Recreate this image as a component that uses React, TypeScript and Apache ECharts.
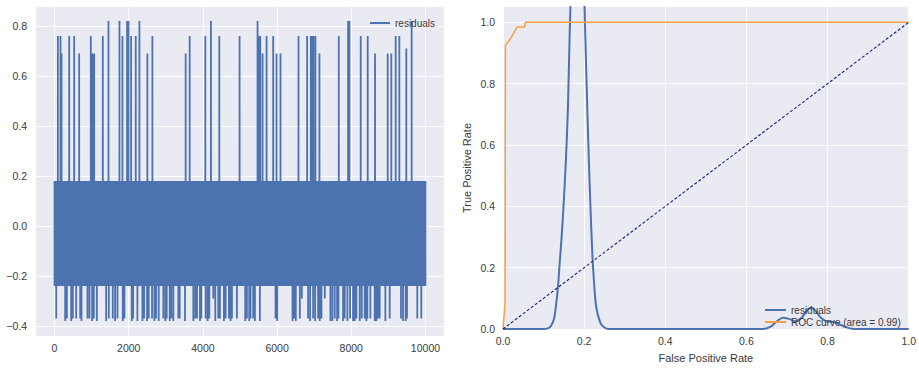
import React, { useEffect, useRef } from "react";
import * as echarts from "echarts";

// ---------- left panel: residuals ----------
const N_POINTS = 10000;
const BASE_LEVELS = [0.18, -0.24];
const UP_SPIKE_IDX = [90, 161, 188, 395, 529, 664, 978, 1023, 1068, 1301, 1454, 1750, 1830, 1956, 1992, 2064, 2189, 2288, 2503, 2638, 3535, 3643, 3795, 4065, 4217, 4442, 4989, 5473, 5500, 5545, 5608, 5716, 5895, 5985, 6092, 6577, 6810, 6909, 6945, 6981, 7034, 7142, 7286, 7663, 7896, 7914, 7950, 8255, 8443, 8515, 8641, 8919, 8982, 9080, 9197, 9296, 9341, 9484, 9628];
const UP_SPIKE_VAL = [0.76, 0.76, 0.69, 0.76, 0.76, 0.69, 0.76, 0.69, 0.69, 0.76, 0.82, 0.82, 0.76, 0.82, 0.82, 0.76, 0.76, 0.82, 0.69, 0.76, 0.69, 0.76, 0.76, 0.76, 0.82, 0.76, 0.76, 0.82, 0.76, 0.76, 0.69, 0.76, 0.76, 0.69, 0.69, 0.76, 0.76, 0.76, 0.76, 0.76, 0.76, 0.69, 0.76, 0.76, 0.69, 0.82, 0.82, 0.76, 0.76, 0.76, 0.69, 0.69, 0.69, 0.69, 0.76, 0.76, 0.69, 0.71, 0.82];
const DOWN_SPIKE_IDX = [45, 287, 332, 449, 493, 583, 691, 727, 888, 942, 1014, 1059, 1140, 1391, 1463, 1570, 1633, 1696, 1839, 1884, 2082, 2118, 2234, 2369, 2414, 2494, 2539, 2629, 2692, 2737, 2808, 2934, 2988, 3024, 3105, 3149, 3203, 3338, 3374, 3517, 3742, 3795, 3840, 3921, 3957, 4074, 4127, 4172, 4280, 4334, 4415, 4459, 4567, 4612, 4702, 4747, 4783, 4917, 5141, 5186, 5249, 5285, 5357, 5402, 5536, 5958, 6003, 6416, 6460, 6505, 6613, 6667, 6837, 6891, 6972, 7026, 7106, 7151, 7196, 7286, 7438, 7492, 7555, 7618, 7654, 7779, 7824, 7896, 7968, 8049, 8093, 8138, 8228, 8282, 8362, 8407, 8434, 8515, 8632, 8677, 8722, 8766, 8919, 9036, 9341, 9395, 9466, 9502, 9780, 9888];
const DOWN_SPIKE_VAL = [-0.37, -0.38, -0.37, -0.38, -0.37, -0.37, -0.37, -0.38, -0.37, -0.37, -0.38, -0.37, -0.38, -0.38, -0.37, -0.37, -0.38, -0.37, -0.38, -0.37, -0.38, -0.37, -0.38, -0.38, -0.37, -0.38, -0.37, -0.37, -0.38, -0.37, -0.38, -0.37, -0.38, -0.37, -0.38, -0.37, -0.38, -0.37, -0.37, -0.38, -0.38, -0.37, -0.37, -0.38, -0.37, -0.37, -0.38, -0.37, -0.29, -0.38, -0.37, -0.37, -0.38, -0.37, -0.37, -0.38, -0.37, -0.37, -0.38, -0.37, -0.38, -0.37, -0.37, -0.38, -0.38, -0.37, -0.38, -0.38, -0.37, -0.38, -0.37, -0.29, -0.37, -0.38, -0.37, -0.38, -0.37, -0.38, -0.37, -0.29, -0.38, -0.38, -0.37, -0.38, -0.37, -0.38, -0.37, -0.38, -0.37, -0.38, -0.38, -0.37, -0.38, -0.37, -0.37, -0.38, -0.37, -0.37, -0.38, -0.38, -0.37, -0.37, -0.38, -0.37, -0.37, -0.38, -0.38, -0.37, -0.37, -0.37];
const LEFT_X_TICKS = [0, 2000, 4000, 6000, 8000, 10000];
const LEFT_Y_TICKS = [-0.4, -0.2, 0.0, 0.2, 0.4, 0.6, 0.8];

// ---------- right panel: KDE + ROC ----------
const KDE_X = [0.0, 0.1, 0.115, 0.125, 0.13, 0.135, 0.14, 0.145, 0.15, 0.155, 0.16, 0.165, 0.17, 0.175, 0.183, 0.19, 0.195, 0.2, 0.205, 0.21, 0.215, 0.22, 0.225, 0.23, 0.24, 0.25, 0.26, 0.64, 0.66, 0.675, 0.69, 0.705, 0.72, 0.735, 0.75, 0.76, 0.77, 0.785, 0.8, 0.815, 0.83, 0.845, 0.86, 0.88, 1.0];
const KDE_Y = [0, 0, 0.005, 0.03, 0.07, 0.13, 0.22, 0.31, 0.42, 0.55, 0.72, 1.0, 1.2, 1.45, 1.56, 1.5, 1.35, 1.1, 0.85, 0.62, 0.42, 0.25, 0.14, 0.07, 0.02, 0.005, 0, 0, 0.008, 0.025, 0.037, 0.033, 0.025, 0.035, 0.062, 0.07, 0.06, 0.035, 0.024, 0.023, 0.015, 0.006, 0.001, 0, 0];
const ROC_FPR = [0, 0.005, 0.006, 0.02, 0.035, 0.053, 0.055, 1.0];
const ROC_TPR = [0, 0.085, 0.925, 0.95, 0.985, 0.985, 1.0, 1.0];
const DIAG_X = [0, 1];
const DIAG_Y = [0, 1];
const RIGHT_TICKS = [0, 0.2, 0.4, 0.6, 0.8, 1.0];

const FONT = "'Liberation Sans', Arial, sans-serif";
const TEXT = "#3a3a3a";
const BLUE = "#4C72B0";
const ORANGE = "#F5A142";

const fmt1 = (v: number) => (v < 0 ? "\u2212" : "") + Math.abs(v).toFixed(1);

export default function App() {
  const ref = useRef<HTMLDivElement>(null);
  useEffect(() => {
    if (!ref.current) return;
    const chart = echarts.init(ref.current, null, { renderer: "svg" });

    const residuals: number[][] = [];
    for (let i = 0; i < N_POINTS; i++) residuals.push([i, BASE_LEVELS[i % 2]]);
    UP_SPIKE_IDX.forEach((ix, k) => (residuals[ix][1] = UP_SPIKE_VAL[k]));
    DOWN_SPIKE_IDX.forEach((ix, k) => (residuals[ix][1] = DOWN_SPIKE_VAL[k]));

    const kde = KDE_X.map((x, i) => [x, KDE_Y[i]]);
    const roc = ROC_FPR.map((x, i) => [x, ROC_TPR[i]]);
    const diag = DIAG_X.map((x, i) => [x, DIAG_Y[i]]);

    const labelStyle = { color: TEXT, fontSize: 10.5, fontFamily: FONT };
    const split = { show: true, lineStyle: { color: "#ffffff", width: 1 } };

    chart.setOption({
      animation: false,
      grid: [
        { left: 36, top: 7, width: 408, height: 329, show: true, backgroundColor: "#EAEAF2", borderWidth: 0 },
        { left: 503, top: 7, width: 407, height: 329, show: true, backgroundColor: "#EAEAF2", borderWidth: 0 },
      ],
      legend: [
        {
          data: ["residuals"],
          left: 365,
          top: 13,
          orient: "vertical",
          icon: "rect",
          itemWidth: 20,
          itemHeight: 2,
          itemGap: 2,
          textStyle: { color: TEXT, fontSize: 10, fontFamily: FONT },
        },
        {
          data: ["residuals", "ROC curve (area = 0.99)"],
          left: 760,
          top: 300,
          orient: "vertical",
          icon: "rect",
          itemWidth: 21,
          itemHeight: 2,
          itemGap: 2,
          textStyle: { color: TEXT, fontSize: 10, fontFamily: FONT },
        },
      ],
      xAxis: [
        {
          gridIndex: 0,
          type: "value",
          min: -500,
          max: 10500,
          axisLine: { show: false },
          axisTick: { show: false, customValues: LEFT_X_TICKS },
          axisLabel: { ...labelStyle, margin: 6, customValues: LEFT_X_TICKS, formatter: (v: number) => String(v) },
          splitLine: split,
        },
        {
          gridIndex: 1,
          type: "value",
          min: 0,
          max: 1,
          axisLine: { show: false },
          axisTick: { show: false, customValues: RIGHT_TICKS },
          axisLabel: { ...labelStyle, margin: 6, customValues: RIGHT_TICKS, formatter: fmt1 },
          splitLine: split,
          name: "False Positive Rate",
          nameLocation: "middle",
          nameGap: 23,
          nameTextStyle: { color: TEXT, fontSize: 11, fontFamily: FONT },
        },
      ],
      yAxis: [
        {
          gridIndex: 0,
          type: "value",
          min: -0.44,
          max: 0.876,
          axisLine: { show: false },
          axisTick: { show: false, customValues: LEFT_Y_TICKS },
          axisLabel: { ...labelStyle, margin: 9, customValues: LEFT_Y_TICKS, formatter: fmt1 },
          splitLine: split,
        },
        {
          gridIndex: 1,
          type: "value",
          min: 0,
          max: 1.05,
          axisLine: { show: false },
          axisTick: { show: false, customValues: RIGHT_TICKS },
          axisLabel: { ...labelStyle, margin: 8, customValues: RIGHT_TICKS, formatter: fmt1 },
          splitLine: split,
          name: "True Positive Rate",
          nameLocation: "middle",
          nameGap: 31,
          nameTextStyle: { color: TEXT, fontSize: 11, fontFamily: FONT },
        },
      ],
      series: [
        {
          name: "residuals",
          type: "line",
          xAxisIndex: 0,
          yAxisIndex: 0,
          data: residuals,
          symbol: "none",
          showSymbol: false,
          lineStyle: { color: BLUE, width: 1.8 },
          itemStyle: { color: BLUE },
          silent: true,
        },
        {
          name: "residuals",
          type: "line",
          xAxisIndex: 1,
          yAxisIndex: 1,
          data: kde,
          symbol: "none",
          smooth: 0.3,
          lineStyle: { color: BLUE, width: 2 },
          itemStyle: { color: BLUE },
          silent: true,
        },
        {
          name: "ROC curve (area = 0.99)",
          type: "line",
          xAxisIndex: 1,
          yAxisIndex: 1,
          data: roc,
          symbol: "none",
          lineStyle: { color: ORANGE, width: 1.5 },
          itemStyle: { color: ORANGE },
          silent: true,
        },
        {
          name: "diag",
          type: "line",
          xAxisIndex: 1,
          yAxisIndex: 1,
          data: diag,
          symbol: "none",
          lineStyle: { color: "#1c1c80", width: 1.1, type: [3, 2] },
          itemStyle: { color: "#1c1c80" },
          silent: true,
        },
      ],
    });
    return () => chart.dispose();
  }, []);
  return (
    <div
      ref={ref}
      style={{ position: "fixed", left: 0, top: 0, width: 919, height: 368, background: "#ffffff" }}
    />
  );
}
